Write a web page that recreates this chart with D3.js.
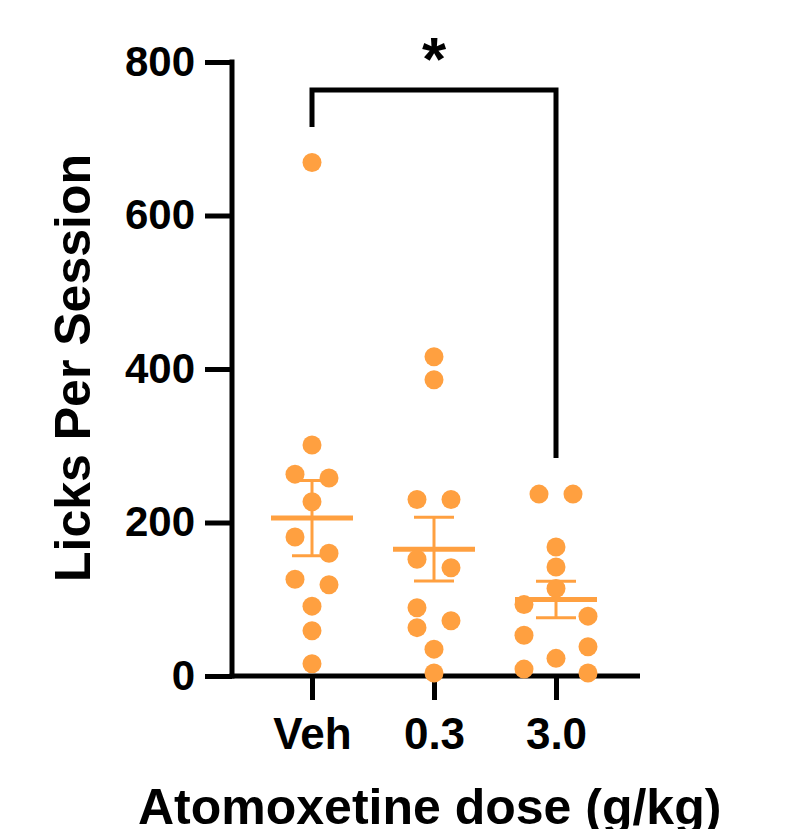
<!DOCTYPE html>
<html>
<head>
<meta charset="utf-8">
<script src="https://cdn.jsdelivr.net/npm/d3@7"></script>
<style>
  body { margin: 0; background: #fff; }
  text { font-family: "Liberation Sans", Arial, sans-serif; font-weight: bold; }
</style>
</head>
<body>
<div id="chart"></div>
<script>
// data
var groups = ["Veh", "0.3", "3.0"];
var vehLicks = [669, 301, 263, 258, 227, 181, 160, 126, 119, 91, 59, 16];
var lowLicks = [416, 386, 230, 230, 152, 141, 89, 72, 63, 35, 4];
var highLicks = [237, 237, 168, 142, 114, 93, 78, 53, 38, 23, 9, 4];
var yTicks = [0, 200, 400, 600, 800];
var sigPair = ["Veh", "3.0"];
var sigLabel = "*";

var allLicks = [vehLicks, lowLicks, highLicks];

var width = 791, height = 829;
var orange = "#ffa040";
var dotR = 9.5;

var svg = d3.select("#chart").append("svg")
    .attr("width", width)
    .attr("height", height);

var y = d3.scaleLinear().domain([0, 800]).range([676, 62]);
var x = d3.scalePoint().domain(groups).range([312, 556]);

// axes
var yAxis = svg.append("g")
    .attr("transform", "translate(232,0)")
    .call(d3.axisLeft(y).tickValues(yTicks).tickSize(27).tickPadding(10));
yAxis.select(".domain").attr("stroke-width", 5).attr("d", "M0," + (y(800) - 2.5) + "V" + (y(0) + 2.5));
yAxis.selectAll(".tick line").attr("stroke-width", 5);
yAxis.selectAll(".tick text").attr("font-size", 42).attr("fill", "#000");

var xAxis = svg.append("g")
    .attr("transform", "translate(0," + y(0) + ")")
    .call(d3.axisBottom(x).tickSize(24).tickPadding(18));
xAxis.select(".domain").attr("stroke-width", 5).attr("d", "M229.5,0H640");
xAxis.selectAll(".tick line").attr("stroke-width", 5);
xAxis.selectAll(".tick text").attr("font-size", 44).attr("fill", "#000");

// axis titles
svg.append("text")
    .attr("transform", "translate(90,368) rotate(-90)")
    .attr("text-anchor", "middle")
    .attr("font-size", 50)
    .text("Licks Per Session");

svg.append("text")
    .attr("x", 138)
    .attr("y", 824)
    .attr("font-size", 50)
    .text("Atomoxetine dose (g/kg)");

// column scatter: chains of close values spread sideways
function spread(vals) {
  var gap = 18;
  var sorted = vals.slice().sort(function(a, b) { return b - a; });
  var chains = [];
  sorted.forEach(function(v, i) {
    if (i > 0 && y(v) - y(sorted[i - 1]) <= gap) chains[chains.length - 1].push(v);
    else chains.push([v]);
  });
  var out = [];
  chains.forEach(function(c) {
    var split = c.length > 3;
    // long chains are cut into rows of at most 3, from the bottom up
    var rows = [];
    var rest = c.slice();
    while (rest.length > 3) rows.unshift(rest.splice(rest.length - 3, 3));
    rows.unshift(rest);
    rows.forEach(function(r) {
      var span = y(r[r.length - 1]) - y(r[0]);
      r.forEach(function(v, i) {
        var dx;
        if (r.length === 1) dx = 0;
        else if (r.length === 2) dx = (i === 0 ? -1 : 1) * (split ? 32 : 17);
        else if (!split && span < 24) dx = [-17, 17, -17][i];
        else dx = [0, -32, 32][i];
        out.push({ v: v, dx: dx });
      });
    });
  });
  return out;
}

groups.forEach(function(g, gi) {
  var vals = allLicks[gi];
  var cx = x(g);
  var m = d3.mean(vals);
  var sem = d3.deviation(vals) / Math.sqrt(vals.length);

  var grp = svg.append("g");

  grp.selectAll("circle")
    .data(spread(vals))
    .enter().append("circle")
    .attr("cx", function(d) { return cx + d.dx; })
    .attr("cy", function(d) { return y(d.v); })
    .attr("r", dotR)
    .attr("fill", orange);

  // mean and SEM
  grp.append("line")
    .attr("x1", cx).attr("x2", cx)
    .attr("y1", y(m + sem)).attr("y2", y(m - sem))
    .attr("stroke", orange).attr("stroke-width", 3);
  [m + sem, m - sem].forEach(function(v) {
    grp.append("line")
      .attr("x1", cx - 20).attr("x2", cx + 20)
      .attr("y1", y(v)).attr("y2", y(v))
      .attr("stroke", orange).attr("stroke-width", 3);
  });
  grp.append("line")
    .attr("x1", cx - 41).attr("x2", cx + 41)
    .attr("y1", y(m)).attr("y2", y(m))
    .attr("stroke", orange).attr("stroke-width", 5);
});

// significance bracket
var bx1 = x(sigPair[0]), bx2 = x(sigPair[1]);
var bTop = 90;
svg.append("path")
    .attr("d", "M" + bx1 + "," + 127 + "V" + bTop + "H" + bx2 + "V" + 458)
    .attr("fill", "none")
    .attr("stroke", "#000")
    .attr("stroke-width", 5);

svg.append("text")
    .attr("x", (bx1 + bx2) / 2)
    .attr("y", 80)
    .attr("text-anchor", "middle")
    .attr("font-size", 62)
    .text(sigLabel);
</script>
</body>
</html>
